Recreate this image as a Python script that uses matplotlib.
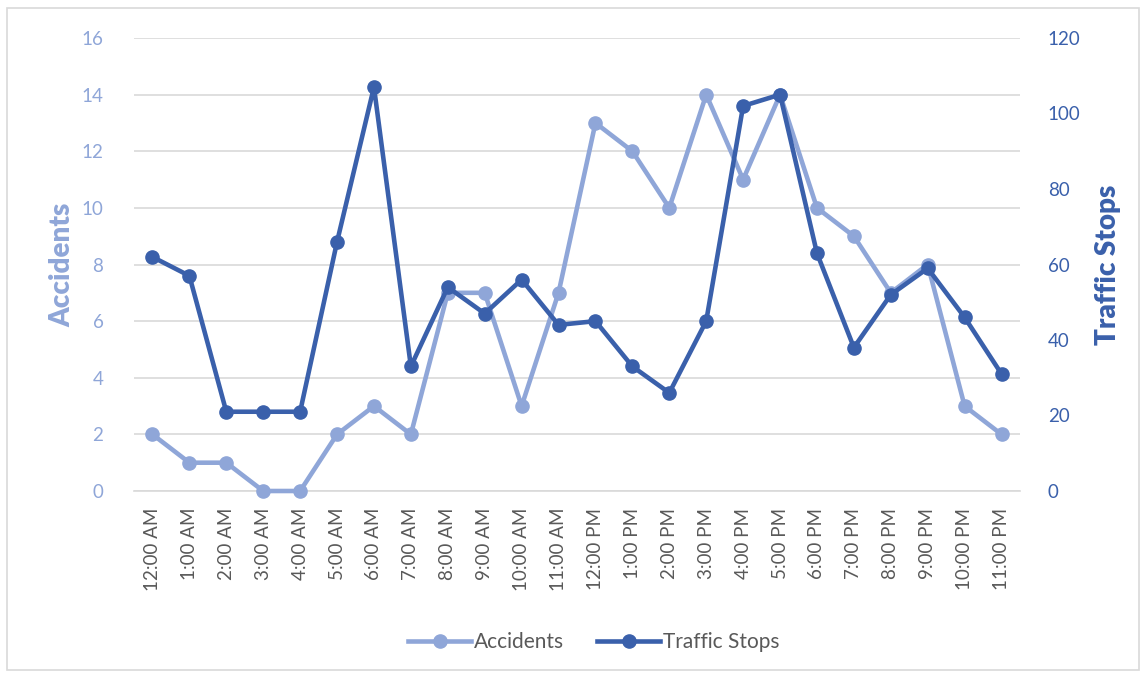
import matplotlib
matplotlib.use("Agg")
import matplotlib.pyplot as plt
from matplotlib.lines import Line2D
from matplotlib.patches import Rectangle

hours = ["12:00 AM", "1:00 AM", "2:00 AM", "3:00 AM", "4:00 AM", "5:00 AM", "6:00 AM",
         "7:00 AM", "8:00 AM", "9:00 AM", "10:00 AM", "11:00 AM", "12:00 PM", "1:00 PM",
         "2:00 PM", "3:00 PM", "4:00 PM", "5:00 PM", "6:00 PM", "7:00 PM", "8:00 PM",
         "9:00 PM", "10:00 PM", "11:00 PM"]
accidents = [2, 1, 1, 0, 0, 2, 3, 2, 7, 7, 3, 7, 13, 12, 10, 14, 11, 14, 10, 9, 7, 8, 3, 2]
traffic_stops = [62, 57, 21, 21, 21, 66, 107, 33, 54, 47, 56, 44, 45, 33, 26, 45, 102, 105,
                 63, 38, 52, 59, 46, 31]
left_ticks = [0, 2, 4, 6, 8, 10, 12, 14, 16]
right_ticks = [0, 20, 40, 60, 80, 100, 120]

c_acc = "#8FA6D8"
c_ts = "#3A60AB"
c_grey = "#595959"

plt.rcParams['font.family'] = ['Lato', 'DejaVu Sans']

W, H = 1145, 675
fig = plt.figure(figsize=(W / 100, H / 100), dpi=100)
fig.patches.append(Rectangle((7 / W, 1 - 670 / H), (1139 - 7) / W, (670 - 8) / H,
                             transform=fig.transFigure, fill=False,
                             edgecolor="#D9D9D9", linewidth=1.2))

ax = fig.add_axes([134 / W, 1 - 491 / H, (1020 - 134) / W, (491 - 38) / H])
ax2 = ax.twinx()

x = list(range(len(hours)))
ax.plot(x, accidents, color=c_acc, lw=3.3, marker='o', ms=9.5, clip_on=False, zorder=3)
ax2.plot(x, traffic_stops, color=c_ts, lw=3.3, marker='o', ms=9.5, clip_on=False, zorder=3)

ax.set_xlim(-0.5, len(hours) - 0.5)
ax.set_ylim(0, 16)
ax2.set_ylim(0, 120)
ax.set_yticks(left_ticks)
ax2.set_yticks(right_ticks)
ax.set_xticks(x)
ax.set_xticklabels(hours, rotation=90, fontsize=13.5, color=c_grey)
ax.tick_params(axis='x', length=0, pad=12)
ax.tick_params(axis='y', length=0, pad=22, labelsize=13.5, labelcolor=c_acc)
ax2.tick_params(axis='y', length=0, pad=20, labelsize=13.5, labelcolor=c_ts)

ax.grid(axis='y', color="#D9D9D9", lw=1.2)
ax.set_axisbelow(True)
for a in (ax, ax2):
    for s in a.spines.values():
        s.set_visible(False)
ax.spines['bottom'].set_visible(True)
ax.spines['bottom'].set_color("#D9D9D9")
ax.spines['bottom'].set_linewidth(1.2)

ax.set_ylabel("Accidents", fontsize=20, fontweight='heavy', color=c_acc,
              va='center', ha='center')
ax2.set_ylabel("Traffic Stops", fontsize=20, fontweight='heavy', color=c_ts,
               va='center', ha='center')
ax.yaxis.set_label_coords((62 - 134) / 886, 0.5)
ax2.yaxis.set_label_coords((1108 - 134) / 886, 0.5)

handles = [Line2D([], [], color=c_acc, lw=3.3, marker='o', ms=9.5),
           Line2D([], [], color=c_ts, lw=3.3, marker='o', ms=9.5)]
fig.legend(handles, ["Accidents", "Traffic Stops"], loc='center',
           bbox_to_anchor=(594 / W, 1 - 642 / H), ncol=2, frameon=False,
           fontsize=15, labelcolor=c_grey, handlelength=3.0, handletextpad=0.15,
           columnspacing=1.6)

fig.savefig("out.png", dpi=100)
